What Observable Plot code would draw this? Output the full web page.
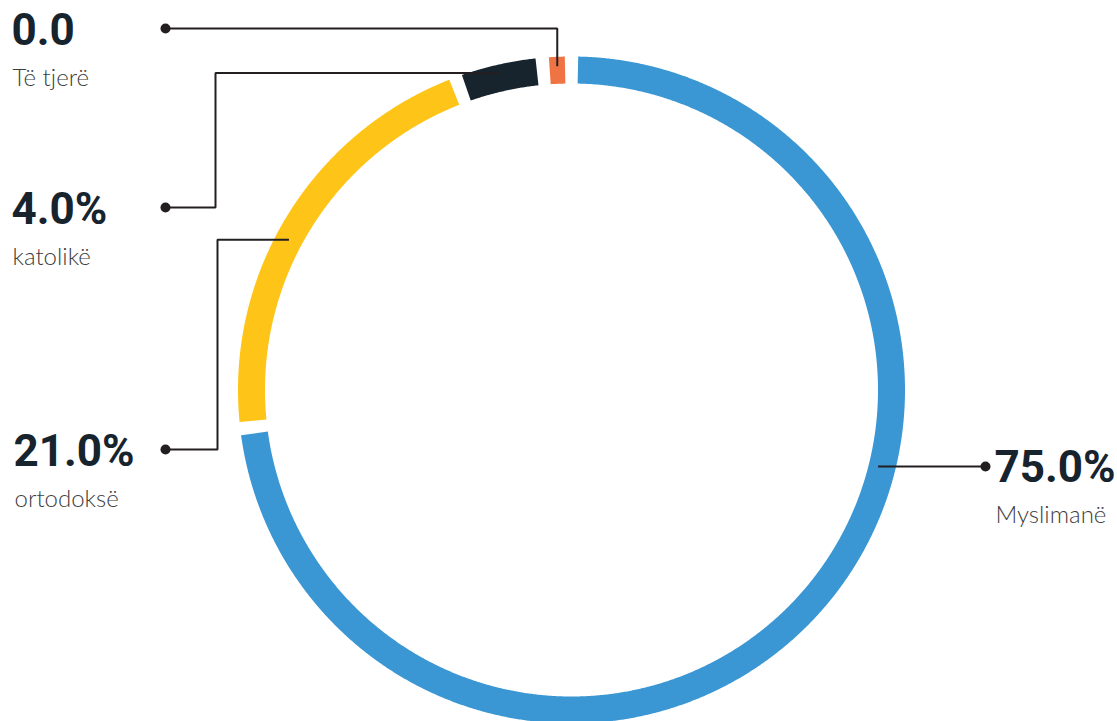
<!DOCTYPE html>
<html>
<head>
<meta charset="utf-8">
<script src="https://cdn.jsdelivr.net/npm/d3@7"></script>
<script src="https://cdn.jsdelivr.net/npm/@observablehq/plot@0.6"></script>
<style>
  html, body { margin: 0; padding: 0; background: #ffffff; }
  #chart svg { display: block; }
</style>
</head>
<body>
<div id="chart"></div>
<script>
// ---- Data ----
const categories = ["Myslimanë", "ortodoksë", "katolikë", "Të tjerë"];
const valueLabels = ["75.0%", "21.0%", "4.0%", "0.0"];
// arc sizes as drawn in the picture (share of the full ring, %)
const arcShares = [73.15, 21.2, 4.25, 1.4];
const colors = ["#3a97d4", "#fec418", "#17242e", "#f07443"];

// ---- Layout ----
const W = 1117, H = 721;
const cx = 571, cy = 389.5, rMid = 320, ringWidth = 27, padDeg = 2.3;
const rad = d => d * Math.PI / 180;
const polar = (deg, r) => ({x: cx + r * Math.sin(rad(deg)), y: cy - r * Math.cos(rad(deg))});

// ring points
const ring = [];
const mids = [];
let acc = 0;
arcShares.forEach((s, i) => {
  const a0 = acc / 100 * 360, a1 = (acc + s) / 100 * 360;
  acc += s;
  const s0 = a0 + padDeg / 2, s1 = a1 - padDeg / 2;
  mids.push((s0 + s1) / 2);
  const n = Math.max(2, Math.ceil((s1 - s0) / 0.25));
  for (let k = 0; k <= n; k++) {
    const p = polar(s0 + (s1 - s0) * k / n, rMid);
    ring.push({cat: categories[i], color: colors[i], x: p.x, y: p.y});
  }
});

// leader lines: anchor on the ring, then elbows to the label dot
const anchors = {
  "Myslimanë": polar(104, 316),
  "ortodoksë": polar(298, 320),
  "katolikë": polar(mids[2], 325),
  "Të tjerë": polar(mids[3], 324)
};
const leaderPaths = {
  "Myslimanë": a => [a, {x: 985, y: a.y}],
  "ortodoksë": a => [a, {x: 217, y: a.y}, {x: 217, y: 449}, {x: 165, y: 449}],
  "katolikë": a => [a, {x: 215, y: a.y}, {x: 215, y: 207}, {x: 165, y: 207}],
  "Të tjerë": a => [a, {x: a.x, y: 28}, {x: 165, y: 28}]
};
const leaders = [];
const dots = [];
const numbers = [];
const names = [];
categories.forEach((c, i) => {
  const pts = leaderPaths[c](anchors[c]);
  pts.forEach(p => leaders.push({cat: c, x: p.x, y: p.y}));
  const end = pts[pts.length - 1];
  dots.push({cat: c, x: end.x, y: end.y});
  const right = c === "Myslimanë";
  const tx = right ? end.x + 9 : (c === "ortodoksë" ? 13 : 11);
  numbers.push({x: tx, y: end.y + 16, text: valueLabels[i]});
  names.push({x: tx + 1, y: end.y + 57, text: c});
});

const chart = Plot.plot({
  width: W,
  height: H,
  margin: 0,
  style: {background: "#ffffff", overflow: "visible"},
  x: {domain: [0, W], range: [0, W], axis: null},
  y: {domain: [0, H], range: [0, H], axis: null},
  marks: [
    Plot.line(ring, {x: "x", y: "y", z: "cat", stroke: "color", strokeWidth: ringWidth,
      strokeLinecap: "butt", strokeLinejoin: "round", curve: "linear"}),
    Plot.line(leaders, {x: "x", y: "y", z: "cat", stroke: "#231f20", strokeWidth: 2,
      strokeLinecap: "butt", strokeLinejoin: "miter", curve: "linear"}),
    Plot.dot(dots, {x: "x", y: "y", r: 5, fill: "#231f20", stroke: "none"}),
    Plot.text(numbers, {x: "x", y: "y", text: "text", textAnchor: "start", lineAnchor: "bottom",
      fontSize: 44, fontWeight: 700, fontFamily: "Roboto", fill: "#17242e", ariaLabel: "numbers"}),
    Plot.text(names, {x: "x", y: "y", text: "text", textAnchor: "start", lineAnchor: "bottom",
      fontSize: 24, fontWeight: 300, fontFamily: "Lato", fill: "#3d3d3d", ariaLabel: "names"})
  ]
});
document.getElementById("chart").appendChild(chart);
d3.select(chart).selectAll('g[aria-label="numbers"] text').attr("letter-spacing", "-3.5");
d3.select(chart).selectAll('g[aria-label="names"] text').attr("letter-spacing", "0.3");
</script>
</body>
</html>
